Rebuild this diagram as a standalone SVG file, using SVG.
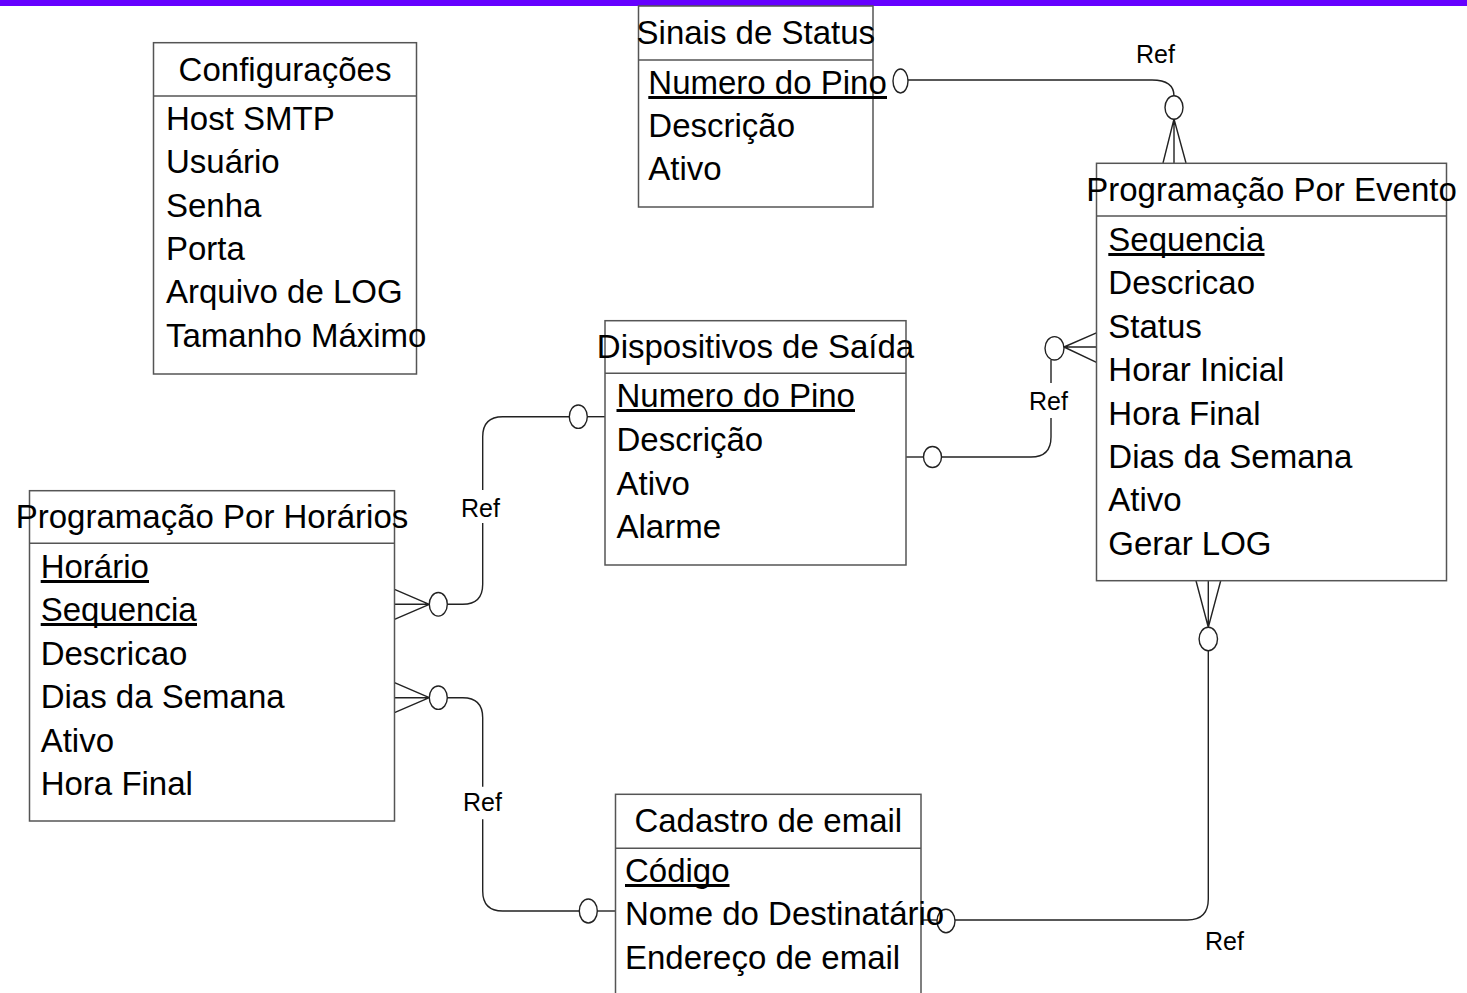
<svg xmlns="http://www.w3.org/2000/svg" width="1467" height="993" viewBox="0 0 1467 993">
  <style>
    .box { fill: #ffffff; stroke: #555555; stroke-width: 1.5; }
    .sep { stroke: #555555; stroke-width: 1.5; }
    .t { font-family: "Liberation Sans", Arial, sans-serif; font-size: 33px; fill: #000000; }
    .title { text-anchor: middle; }
    .key { stroke: #000000; stroke-width: 3; }
    .conn { fill: none; stroke: #222222; stroke-width: 1.4; }
    .opt { fill: #ffffff; stroke: #222222; stroke-width: 1.4; }
    .ref { font-family: "Liberation Sans", Arial, sans-serif; font-size: 25px; fill: #000000; }
  </style>

  <rect width="1467" height="993" fill="#ffffff"/>
  <!-- top banner -->
  <rect x="0" y="0" width="1467" height="6" fill="#6600ff"/>

  <!-- relationship lines -->
  <g id="connectors">
    <!-- Sinais de Status (1) to Programação Por Evento (N) -->
    <ellipse class="opt" cx="900.5" cy="81" rx="7.5" ry="12"/>
    <path class="conn" d="M908 80 H1152 Q1174 80 1174 96"/>
    <ellipse class="opt" cx="1174" cy="107.5" rx="9" ry="11.7"/>
    <path class="conn" d="M1174 119 L1163 163 M1174 119 V163 M1174 119 L1186 163"/>
    <text class="ref" x="1136" y="63">Ref</text>

    <!-- Dispositivos de Saída (1) to Programação Por Evento (N) -->
    <path class="conn" d="M906 457 H923.5"/>
    <ellipse class="opt" cx="932.5" cy="457" rx="9" ry="10.5"/>
    <path class="conn" d="M941.5 457 H1031 Q1051 457 1051 437 V418 M1051 383 V360"/>
    <ellipse class="opt" cx="1054.5" cy="348.3" rx="9.5" ry="11.7"/>
    <path class="conn" d="M1064 347 L1097 332.7 M1064 347 H1097 M1064 347 L1097 362.7"/>
    <text class="ref" x="1029" y="410">Ref</text>

    <!-- Dispositivos de Saída (1) to Programação Por Horários (N) -->
    <path class="conn" d="M394.5 589.3 L429.3 604.3 M394.5 604.3 H429.3 M394.5 619.3 L429.3 604.3"/>
    <ellipse class="opt" cx="438.3" cy="604.3" rx="9" ry="11.8"/>
    <path class="conn" d="M447.3 604.3 H462.7 Q482.7 604.3 482.7 584.3 V523 M482.7 490 V436.7 Q482.7 416.7 502.7 416.7 H569.3"/>
    <ellipse class="opt" cx="578.3" cy="416.7" rx="9" ry="11.7"/>
    <path class="conn" d="M587.3 416.7 H605"/>
    <text class="ref" x="461" y="517">Ref</text>

    <!-- Cadastro de email (1) to Programação Por Horários (N) -->
    <path class="conn" d="M394.5 682.7 L429.3 697.7 M394.5 697.7 H429.3 M394.5 712.7 L429.3 697.7"/>
    <ellipse class="opt" cx="438.3" cy="697.7" rx="9" ry="11.7"/>
    <path class="conn" d="M447.3 697.7 H462.7 Q482.7 697.7 482.7 717.7 V786.7 M482.7 819.3 V891 Q482.7 911 502.7 911 H579.3"/>
    <ellipse class="opt" cx="588.3" cy="911" rx="9" ry="12"/>
    <path class="conn" d="M597.3 911 H615.5"/>
    <text class="ref" x="463" y="811">Ref</text>

    <!-- Cadastro de email (1) to Programação Por Evento (N) -->
    <path class="conn" d="M1196 580.7 L1208.3 627.3 M1208.3 580.7 V627.3 M1220.7 580.7 L1208.3 627.3"/>
    <ellipse class="opt" cx="1208.3" cy="639" rx="9.2" ry="11.7"/>
    <path class="conn" d="M1208.3 650.7 V899 Q1208.3 920 1187.3 920 H955"/>
    <ellipse class="opt" cx="946" cy="921" rx="9" ry="11.7"/>
    <path class="conn" d="M937 920 H921"/>
    <text class="ref" x="1205" y="950">Ref</text>
  </g>

  <g id="configuracoes">
    <rect class="box" x="153.5" y="42.7" width="263" height="331.3"/>
    <line class="sep" x1="153.5" y1="96" x2="416.5" y2="96"/>
    <text class="t title" x="285" y="81">Configurações</text>
    <text class="t" x="166" y="130">Host SMTP</text>
    <text class="t" x="166" y="173">Usuário</text>
    <text class="t" x="166" y="217">Senha</text>
    <text class="t" x="166" y="260">Porta</text>
    <text class="t" x="166" y="303">Arquivo de LOG</text>
    <text class="t" x="166" y="347">Tamanho Máximo</text>
  </g>

  <g id="sinais-de-status">
    <rect class="box" x="638.5" y="6" width="234.5" height="201"/>
    <line class="sep" x1="638.5" y1="60" x2="873" y2="60"/>
    <text class="t title" x="755.8" y="44">Sinais de Status</text>
    <text class="t" x="648.3" y="94">Numero do Pino</text>
    <line class="key" x1="648.3" y1="97.5" x2="887" y2="97.5"/>
    <text class="t" x="648.3" y="137">Descrição</text>
    <text class="t" x="648.3" y="180">Ativo</text>
  </g>

  <g id="programacao-por-evento">
    <rect class="box" x="1096.5" y="163.3" width="350" height="417.4"/>
    <line class="sep" x1="1096.5" y1="216" x2="1446.5" y2="216"/>
    <text class="t title" x="1271.5" y="201">Programação Por Evento</text>
    <text class="t" x="1108.3" y="251">Sequencia</text>
    <line class="key" x1="1108.3" y1="254.5" x2="1264.5" y2="254.5"/>
    <text class="t" x="1108.3" y="294">Descricao</text>
    <text class="t" x="1108.3" y="338">Status</text>
    <text class="t" x="1108.3" y="381">Horar Inicial</text>
    <text class="t" x="1108.3" y="425">Hora Final</text>
    <text class="t" x="1108.3" y="468">Dias da Semana</text>
    <text class="t" x="1108.3" y="511">Ativo</text>
    <text class="t" x="1108.3" y="555">Gerar LOG</text>
  </g>

  <g id="dispositivos-de-saida">
    <rect class="box" x="605" y="320.7" width="301" height="244.3"/>
    <line class="sep" x1="605" y1="373.3" x2="906" y2="373.3"/>
    <text class="t title" x="755.5" y="358">Dispositivos de Saída</text>
    <text class="t" x="616.5" y="407">Numero do Pino</text>
    <line class="key" x1="616.5" y1="410.5" x2="855" y2="410.5"/>
    <text class="t" x="616.5" y="451">Descrição</text>
    <text class="t" x="616.5" y="495">Ativo</text>
    <text class="t" x="616.5" y="538">Alarme</text>
  </g>

  <g id="programacao-por-horarios">
    <rect class="box" x="29.5" y="490.7" width="365" height="330.3"/>
    <line class="sep" x1="29.5" y1="543.3" x2="394.5" y2="543.3"/>
    <text class="t title" x="212" y="528">Programação Por Horários</text>
    <text class="t" x="40.7" y="578">Horário</text>
    <line class="key" x1="40.7" y1="581.5" x2="149" y2="581.5"/>
    <text class="t" x="40.7" y="621">Sequencia</text>
    <line class="key" x1="40.7" y1="624.5" x2="197" y2="624.5"/>
    <text class="t" x="40.7" y="665">Descricao</text>
    <text class="t" x="40.7" y="708">Dias da Semana</text>
    <text class="t" x="40.7" y="752">Ativo</text>
    <text class="t" x="40.7" y="795">Hora Final</text>
  </g>

  <g id="cadastro-de-email">
    <rect class="box" x="615.5" y="794.3" width="305.5" height="220"/>
    <line class="sep" x1="615.5" y1="848.3" x2="921" y2="848.3"/>
    <text class="t title" x="768.3" y="832">Cadastro de email</text>
    <text class="t" x="625" y="882">Código</text>
    <line class="key" x1="625" y1="885.5" x2="729.5" y2="885.5"/>
    <text class="t" x="625" y="925">Nome do Destinatário</text>
    <text class="t" x="625" y="969">Endereço de email</text>
  </g>
</svg>
